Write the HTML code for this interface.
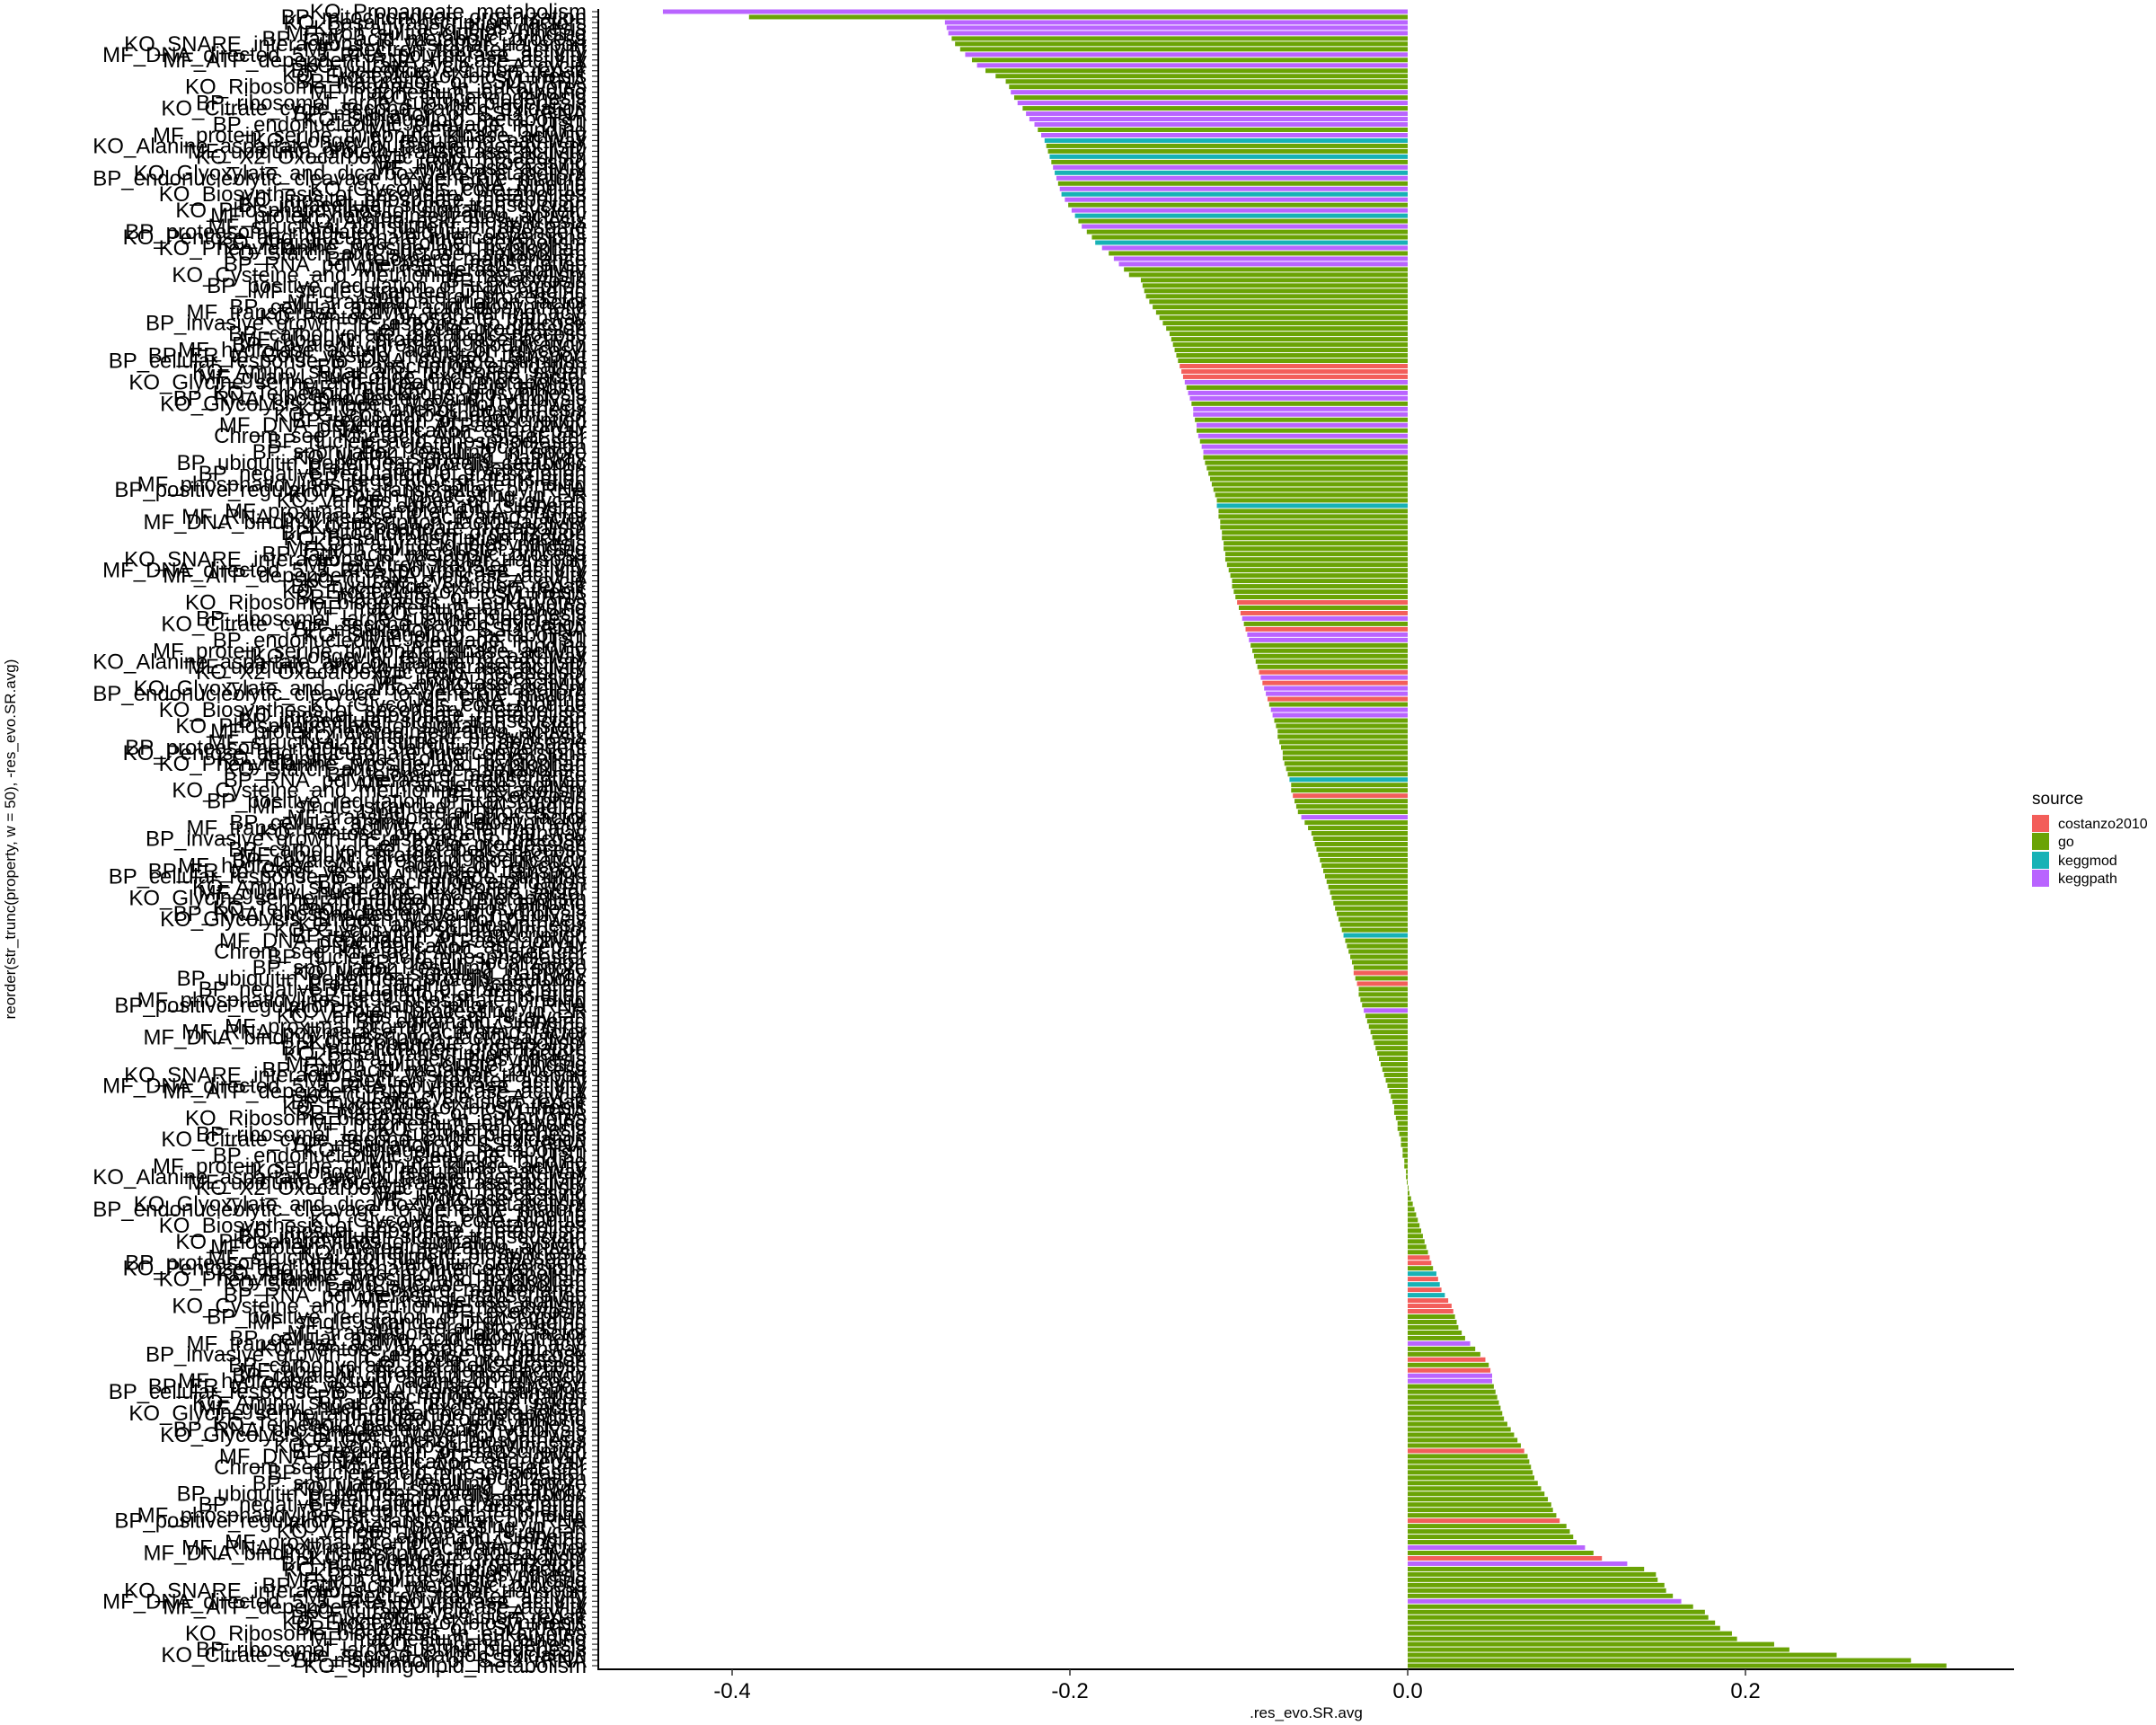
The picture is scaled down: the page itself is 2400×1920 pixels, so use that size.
<!DOCTYPE html>
<html><head><meta charset="utf-8"><style>
html,body{margin:0;padding:0;background:#fff;}
svg{display:block;font-family:"Liberation Sans",Arial,sans-serif;}
</style></head><body>
<svg id="chart" width="2400" height="1920" viewBox="0 0 2400 1920" xmlns="http://www.w3.org/2000/svg">
<g id="bars"></g>
<g id="ylabels"></g>
<g id="xaxis"></g>
<text x="1454" y="1912" font-size="17" text-anchor="middle">.res_evo.SR.avg</text>
<text transform="translate(17,934) rotate(-90)" font-size="17" text-anchor="middle">reorder(str_trunc(property, w = 50), -res_evo.SR.avg)</text>
<g>
<text x="2262" y="895" font-size="19">source</text>
<rect x="2262" y="907" width="19" height="19" fill="#F35E5A"/>
<text x="2291" y="922" font-size="16">costanzo2010</text>
<rect x="2262" y="927" width="19" height="19" fill="#6AA305"/>
<text x="2291" y="942" font-size="16">go</text>
<rect x="2262" y="948" width="19" height="19" fill="#17B2B6"/>
<text x="2291" y="963" font-size="16">keggmod</text>
<rect x="2262" y="968" width="19" height="19" fill="#B964FF"/>
<text x="2291" y="983" font-size="16">keggpath</text>
</g>
</svg>
<script>
const values = [
-0.441,-0.390,-0.274,-0.273,-0.272,-0.270,-0.268,-0.265,-0.262,-0.258,-0.255,-0.250,-0.244,-0.238,-0.236,-0.235,-0.233,-0.231,-0.228,-0.226,-0.224,-0.221,-0.219,-0.217,-0.215,
-0.214,-0.213,-0.212,-0.211,-0.210,-0.209,-0.208,-0.207,-0.206,-0.205,-0.203,-0.201,-0.199,-0.197,-0.195,-0.193,-0.190,-0.187,-0.185,-0.181,-0.177,-0.174,-0.171,-0.168,-0.165,
-0.158,-0.157,-0.156,-0.155,-0.153,-0.151,-0.149,-0.147,-0.145,-0.143,-0.141,-0.140,-0.139,-0.138,-0.137,-0.136,-0.135,-0.134,-0.133,-0.132,-0.131,-0.130,-0.129,-0.128,-0.127,-0.127,
-0.126,-0.125,-0.125,-0.124,-0.123,-0.122,-0.121,-0.121,-0.120,-0.119,-0.118,-0.117,-0.116,-0.115,-0.114,-0.113,-0.113,-0.112,-0.112,-0.111,-0.111,-0.110,-0.110,-0.109,-0.109,
-0.108,-0.108,-0.107,-0.106,-0.105,-0.104,-0.104,-0.103,-0.102,-0.101,-0.100,-0.099,-0.098,-0.097,-0.096,-0.095,-0.094,-0.093,-0.092,-0.091,-0.090,-0.089,-0.088,-0.087,-0.086,
-0.085,-0.084,-0.083,-0.082,-0.081,-0.080,-0.079,-0.078,-0.077,-0.077,-0.076,-0.075,-0.074,-0.074,-0.073,-0.072,-0.071,-0.070,-0.069,-0.069,-0.068,-0.067,-0.066,-0.065,-0.063,-0.061,
-0.059,-0.057,-0.056,-0.055,-0.054,-0.053,-0.052,-0.051,-0.050,-0.049,-0.048,-0.047,-0.046,-0.045,-0.044,-0.043,-0.042,-0.041,-0.040,-0.039,-0.038,-0.037,-0.036,-0.035,-0.034,
-0.033,-0.032,-0.032,-0.031,-0.030,-0.029,-0.029,-0.028,-0.027,-0.026,-0.025,-0.024,-0.023,-0.022,-0.021,-0.020,-0.019,-0.018,-0.017,-0.016,-0.015,-0.014,-0.013,-0.012,-0.011,-0.010,
-0.009,-0.008,-0.008,-0.007,-0.006,-0.006,-0.005,-0.004,-0.004,-0.003,-0.003,-0.002,-0.002,-0.001,-0.001,-0.0005,0.0005,0.001,
0.002,0.003,0.004,0.005,0.006,0.007,0.008,0.009,0.010,0.011,0.012,0.013,0.014,0.015,0.017,0.018,0.019,0.020,0.022,0.024,0.026,0.027,0.028,0.029,0.030,0.032,0.034,0.037,0.040,0.043,0.046,0.048,0.049,
0.050,0.050,0.051,0.052,0.053,0.054,0.055,0.056,0.057,0.059,0.061,0.063,0.065,0.067,0.069,0.071,0.072,0.073,0.074,0.075,0.077,0.079,0.081,0.083,0.085,
0.086,0.088,0.090,0.094,0.096,0.098,0.100,0.105,0.110,0.115,0.130,0.140,0.147,0.148,0.152,0.153,0.157,0.162,0.169,0.176,0.178,0.182,0.185,0.192,0.195,0.217,0.226,0.254,0.298,0.319
];
const purpleIdx = [0,2,3,4,8,10,15,17,19,20,21,23,29,31,33,35,37,40,44,46,47,69,71,72,74,75,77,79,81,82,113,116,117,124,126,127,130,131,150,186,248,254,255,286,289,296];
const redIdx = [66,67,68,110,112,115,123,125,128,146,179,181,232,233,236,238,240,241,242,251,253,268,281,288];
const tealIdx = [24,27,30,34,38,43,92,143,172,235,237,239];
const baseNames = ["KO_Propanoate_metabolism","BP_mitochondrion_organization","KO_Basal_transcription_factors","KO_Fatty_acid_biosynthesis","MF_iron_sulfur_cluster_binding","BP_fatty_acid_metabolic_process","KO_SNARE_interactions_in_vesicular_transport","MF_electron_transfer_activity","MF_DNA_directed_5_3_RNA_polymerase_activity","MF_ATP_dependent_RNA_helicase_activity","KO_Citrate_cycle_TCA_cycle","BP_nucleotide_excision_repair","KO_Ergocalciferol_biosynthesis","BP_maturation_of_LSU_rRNA","KO_Ribosome_biogenesis_in_eukaryotes","MF_magnesium_ion_binding","KO_Gluconeogenesis","BP_ribosomal_large_subunit_biogenesis","KO_Citrate_cycle_second_carbon_oxidation","BP_maturation_of_SSU_rRNA","KO_Sphingolipid_metabolism","BP_endonucleolytic_cleavage_in_ITS1","MF_metal_ion_binding","MF_protein_serine_threonine_kinase_activity","KO_Longevity_regulating_pathway","KO_Alanine_aspartate_and_glutamate_metabolism","MF_ubiquitin_protein_transferase_activity","KO_X2_Oxocarboxylic_acid_metabolism","BP_tRNA_processing","MF_hydrolase_activity","KO_Glyoxylate_and_dicarboxylate_metabolism","BP_endonucleolytic_cleavage_to_generate_mature","MF_DNA_binding","KO_Glycolysis_core_module","KO_Biosynthesis_of_secondary_metabolites","KO_Inositol_phosphate_metabolism","BP_intracellular_signal_transduction","KO_Phosphatidylinositol_signaling_system","MF_protein_heterodimerization_activity","KO_Amino_acid_biosynthesis","MF_structural_constituent_of_ribosome","BP_proteasome_mediated_ubiquitin_dependent","KO_Pentose_and_glucuronate_interconversions","KO_Arginine_and_proline_metabolism","KO_Phenylalanine_tyrosine_and_tryptophan","KO_Starch_and_sucrose_metabolism","BP_telomere_maintenance","BP_RNA_polymerase_II_transcription","MF_transferase_activity","KO_Cysteine_and_methionine_metabolism","BP_exocytosis","BP_positive_regulation_of_transcription","MF_single_stranded_DNA_binding","Lipid_sterol_processing","MF_translation_initiation_factor","BP_cellular_amino_acid_biosynthetic","MF_transferase_activity_transferring_acyl","KO_Pentose_phosphate_pathway","BP_invasive_growth_in_response_to_glucose","Cell_cycle_progression","BP_carbohydrate_metabolic_process","MF_ubiquitin_protein_ligase_activity","BP_covalent_chromatin_modification","MF_hydrolase_activity_acting_on_glycosyl","BP_ER_to_Golgi_vesicle_mediated_transport","BP_cellular_response_to_DNA_damage_stimulus","BP_transcription_elongation","KO_Amino_sugar_and_nucleotide_sugar","MF_guanyl_nucleotide_exchange_factor","KO_Glycine_serine_and_threonine_metabolism","MF_unfolded_protein_binding","KO_Terpenoid_backbone_biosynthesis","BP_RNA_phosphodiester_bond_hydrolysis","KO_Glycolysis_Embden_Meyerhof_pathway","KO_GPI_anchor_biosynthesis","KO_Glycosylphosphatidylinositol","BP_regulation_of_transcription","MF_DNA_dependent_ATPase_activity","DNA_replication_and_repair","Chrom_seg_Kinetoch_APC_Sister_chr","BP_nucleic_acid_phosphodiester","BP_protein_localization","BP_sporulation_resulting_in_spore","KO_MAPK_signaling_pathway","BP_ubiquitin_dependent_protein_catabolic","Protein_folding_glycosylation","BP_negative_regulation_of_transcription","BP_regulation_of_translation","MF_phosphatidylinositol_3_phosphate_binding","BP_positive_regulation_of_transcription_by_RNA","KO_Protein_processing_in_ER","KO_Various_types_of_N_glycan","BP_chromatin_silencing","MF_proximal_promoter_DNA_binding","MF_RNA_polymerase_II_activating_factor","MF_DNA_binding_transcription_factor_activity"];
const N = values.length;
const NS = "http://www.w3.org/2000/svg";
const colors = {g:"#6AA305", p:"#B964FF", r:"#F35E5A", t:"#17B2B6"};
const plotL = 666, plotR = 2242, plotT = 10, plotB = 1857;
const zeroX = 1567, perUnit = 1880;
function xs(v){ return zeroX + v*perUnit; }
const band = (plotB - plotT) / N;
function ys(i){ return plotT + i*band; }
const gBars = document.getElementById('bars');
const gLab = document.getElementById('ylabels');
for (let i = 0; i < N; i++) {
  const v = values[i];
  let src = 'g';
  if (purpleIdx.includes(i)) src = 'p';
  if (redIdx.includes(i)) src = 'r';
  if (tealIdx.includes(i)) src = 't';
  const r = document.createElementNS(NS, 'rect');
  
  
  const x0 = Math.min(xs(0), xs(v)), x1 = Math.max(xs(0), xs(v));
  r.setAttribute('x', x0.toFixed(2));
  r.setAttribute('width', Math.max(0.5, x1 - x0).toFixed(2));
  r.setAttribute('y', (ys(i) + 0.5).toFixed(2));
  r.setAttribute('height', (band - 1.0).toFixed(2));
  r.setAttribute('fill', colors[src]);
  gBars.appendChild(r);
  const t = document.createElementNS(NS, 'text');
  
  
  t.setAttribute('x', 653);
  t.setAttribute('y', (ys(i) + band/2 + 8).toFixed(2));
  t.setAttribute('font-size', '24');
  t.setAttribute('text-anchor', 'end');
  t.textContent = baseNames[i % baseNames.length];
  gLab.appendChild(t);
  const tk = document.createElementNS(NS, 'line');
  
  
  tk.setAttribute('x1', 659); tk.setAttribute('x2', 665);
  tk.setAttribute('y1', (ys(i)+band/2).toFixed(2)); tk.setAttribute('y2', (ys(i)+band/2).toFixed(2));
  tk.setAttribute('stroke', '#333'); tk.setAttribute('stroke-width', '1.2');
  gLab.appendChild(tk);
}
const xTicks = [-0.4, -0.2, 0.0, 0.2];
const xTickLabels = ["-0.4", "-0.2", "0.0", "0.2"];
const gx = document.getElementById('xaxis');
const axl = document.createElementNS(NS, 'line');


axl.setAttribute('x1', plotL); axl.setAttribute('x2', plotR);
axl.setAttribute('y1', plotB + 1); axl.setAttribute('y2', plotB + 1);
axl.setAttribute('stroke', '#000'); axl.setAttribute('stroke-width', '2');
gx.appendChild(axl);
const ayl = document.createElementNS(NS, 'line');


ayl.setAttribute('x1', plotL); ayl.setAttribute('x2', plotL);
ayl.setAttribute('y1', plotT); ayl.setAttribute('y2', plotB + 2);
ayl.setAttribute('stroke', '#000'); ayl.setAttribute('stroke-width', '2');
gx.appendChild(ayl);
xTicks.forEach((v, k) => {
  const l = document.createElementNS(NS, 'line');
  
  
  l.setAttribute('x1', xs(v)); l.setAttribute('x2', xs(v));
  l.setAttribute('y1', plotB + 1); l.setAttribute('y2', plotB + 8);
  l.setAttribute('stroke', '#333'); l.setAttribute('stroke-width', '1.5');
  gx.appendChild(l);
  const t = document.createElementNS(NS, 'text');
  
  
  t.setAttribute('x', xs(v)); t.setAttribute('y', plotB + 33);
  t.setAttribute('font-size', '24'); t.setAttribute('text-anchor', 'middle');
  t.textContent = xTickLabels[k];
  gx.appendChild(t);
});
</script>
</body></html>
